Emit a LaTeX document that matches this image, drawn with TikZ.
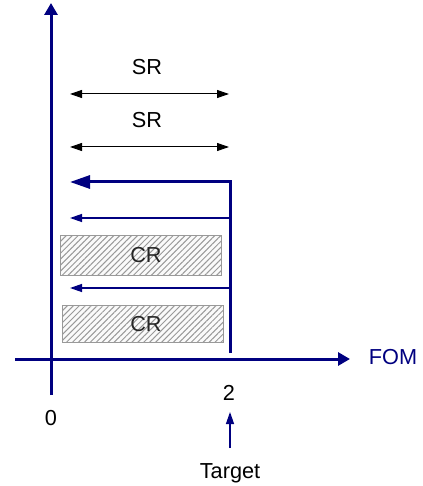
\documentclass[tikz,border=0pt]{standalone}
\usepackage{fontspec}
\setmainfont{Liberation Sans}
\usetikzlibrary{arrows.meta,patterns.meta}
\definecolor{navy}{RGB}{0,0,128}
\begin{document}
\begin{tikzpicture}[x=1pt,y=-1pt,
  lbl/.style={font=\fontsize{21.7}{26}\selectfont, text height=15.6pt, text depth=0pt, inner sep=0pt},
  axis/.style={navy, line width=3pt, -{Triangle[length=12pt,width=13pt]}},
  bigarrow/.style={navy, line width=3pt, -{Triangle[length=20pt,width=13pt]}},
  thinarrow/.style={navy, line width=1.3pt, -{Triangle[length=12pt,width=8pt]}},
  srspan/.style={black, line width=1pt, {Triangle[length=12pt,width=8pt]}-{Triangle[length=12pt,width=8pt]}},
  crbox/.style={draw=gray!80, line width=0.9pt, fill=gray!4,
    postaction={pattern={Lines[angle=45,distance=4.2pt,line width=1pt]}, pattern color=gray!80}}]
\useasboundingbox (0,0) rectangle (422,486);

% axes
\coordinate (ybot) at (51,395);
\coordinate (ytop) at (51,3);
\coordinate (xl) at (15,359);
\coordinate (xr) at (350,359);
\draw[axis] (ybot) -- (ytop);
\draw[axis] (xl) -- (xr);
\node[lbl, navy] (fom) at (393,357) {FOM};
\node[lbl] (zero) at (51,418) {0};
\node[lbl] (two) at (229,393) {2};

% SR spans
\coordinate (sr1l) at (70,94);  \coordinate (sr1r) at (229,94);
\coordinate (sr2l) at (70,147); \coordinate (sr2r) at (229,147);
\draw[srspan] (sr1l) -- (sr1r);
\draw[srspan] (sr2l) -- (sr2r);
\node[lbl] (sr1) at (147,67) {SR};
\node[lbl] (sr2) at (147,120) {SR};

% CR boxes
\path[crbox] (60,235) rectangle (221,275);
\path[crbox] (62,305) rectangle (223,342);
\node[lbl, text=black!85] (cr1) at (146,255) {CR};
\node[lbl, text=black!85] (cr2) at (146,324) {CR};

% target line and its arrows
\coordinate (tb) at (230,353);
\coordinate (tt) at (230,182);
\coordinate (big) at (70,182);
\coordinate (a1r) at (230,218); \coordinate (a1l) at (70,218);
\coordinate (a2r) at (230,288); \coordinate (a2l) at (70,288);
\draw[bigarrow] (tb) -- (tt) -- (big);
\draw[thinarrow] (a1r) -- (a1l);
\draw[thinarrow] (a2r) -- (a2l);

% target marker
\node[lbl] (target) at (230,471) {Target};
\coordinate (tarr) at (230,448);
\coordinate (tarh) at (230,412);
\draw[thinarrow] (tarr) -- (tarh);
\end{tikzpicture}
\end{document}
